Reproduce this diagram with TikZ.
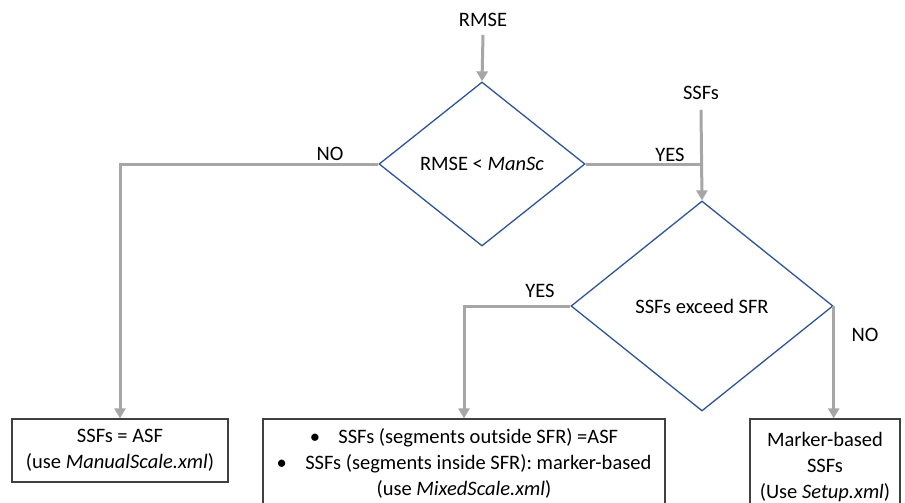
\documentclass[tikz,border=0pt]{standalone}
\usepackage{fontspec}
\setmainfont{Carlito}
\usetikzlibrary{shapes.geometric,arrows.meta}
\definecolor{conn}{HTML}{A6A6A6}
\definecolor{dblue}{HTML}{2F5597}
\definecolor{boxline}{HTML}{404040}
\tikzset{
  lbl/.style={font=\fontsize{20.5}{24}\selectfont, inner sep=0pt},
  decision/.style={diamond, draw=dblue, line width=1.3pt, inner sep=0pt, font=\fontsize{20.5}{24}\selectfont},
  outbox/.style={rectangle, draw=boxline, line width=1.3pt, align=center, inner sep=0pt, font=\fontsize{20.5}{26}\selectfont},
  flow/.style={draw=conn, line width=3pt},
  flowarr/.style={flow, -{Triangle[length=10pt,width=11pt]}}
}
\begin{document}
\begin{tikzpicture}[x=1pt,y=-1pt]
\useasboundingbox (0,0) rectangle (905,503);
\clip (0,0) rectangle (905,503);
\fill[white] (0,0) rectangle (905,503);
\node[lbl] (rmse) at (483,20) {RMSE};
\node[lbl] (ssfs) at (701,93) {SSFs};
\node[decision, minimum width=206pt, minimum height=164pt] (d1) at (482,164) {RMSE < \textit{ManSc}};
\node[decision, minimum width=262pt, minimum height=210pt] (d2) at (702,306) {SSFs exceed SFR};
\node[outbox, minimum width=216pt, minimum height=63pt] (b1) at (120,450.5) {SSFs = ASF\\(use \textit{ManualScale.xml})};
\node[outbox, minimum width=402pt, minimum height=91pt] (b2) at (464,464.5) {\textbullet\hspace{0.9em}SSFs (segments outside SFR) =ASF\\\textbullet\hspace{0.9em}SSFs (segments inside SFR): marker-based\\(use \textit{MixedScale.xml})\\[-20pt]\mbox{}};
\node[outbox, minimum width=150pt, minimum height=91pt] (b3) at (825,464.5) {\rule{0pt}{20pt}Marker-based\\SSFs\\(Use \textit{Setup.xml})};
\coordinate (j1) at (d2.north |- d1.east);
\coordinate (j2) at (b3.north -| d2.east);
\node[lbl] (no1) at (330,154) {NO};
\node[lbl] (yes1) at (670,155) {YES};
\node[lbl] (yes2) at (540,291) {YES};
\node[lbl] (no2) at (865,335) {NO};
\draw[flowarr] ([yshift=-8pt]rmse.south) -- (d1.north);
\draw[flowarr] ([yshift=-10pt]ssfs.south) -- (d2.north);
\draw[flow] (d1.east) -- (j1);
\draw[flowarr] (d1.west) -| (b1.north);
\draw[flowarr] (d2.west) -| (b2.north);
\draw[flowarr] (d2.east) -- (j2);
\end{tikzpicture}
\end{document}
